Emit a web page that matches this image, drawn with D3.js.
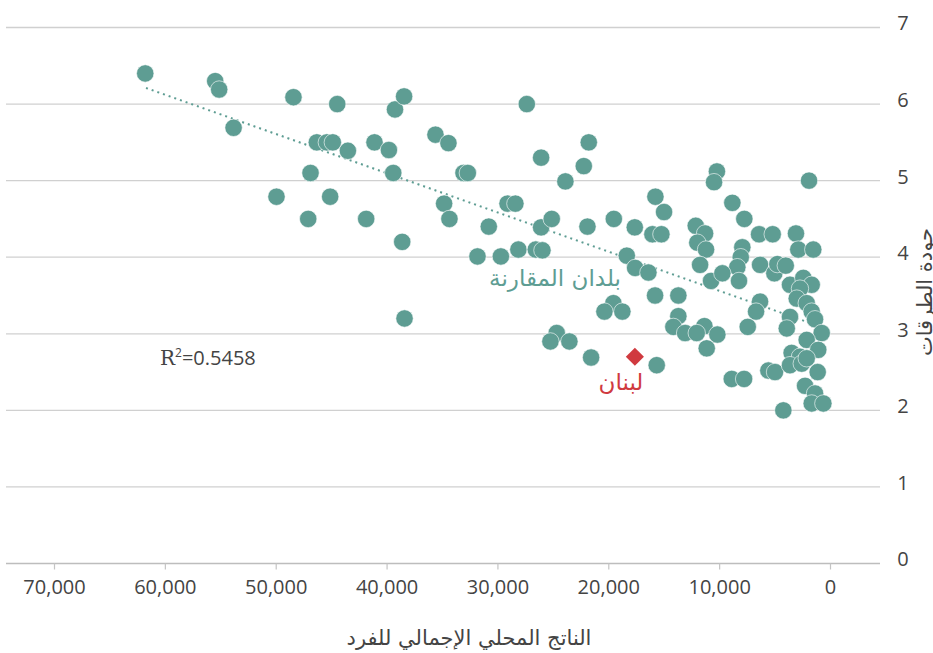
<!DOCTYPE html>
<html lang="ar">
<head>
<meta charset="utf-8">
<script src="https://cdn.jsdelivr.net/npm/d3@7"></script>
<style>
  html, body { margin: 0; padding: 0; background: #fff; }
  svg { display: block; }
  .tick text { font-family: "Open Sans", "Noto Sans", sans-serif; }
</style>
</head>
<body>
<svg id="chart" width="933" height="653"></svg>
<script>
// GDP per capita (US$) of the comparison countries
const gdp = [
  61770, 55460, 55100, 53800, 48400, 44450, 39240, 38420, 27350, 46290,
  45390, 44850, 43490, 41090, 46860, 49930, 45090, 47070, 41840, 39790,
  39400, 35590, 34420, 33060, 32670, 34810, 34330, 38590, 30780, 31800,
  29690, 28110, 26540, 25940, 29090, 28380, 26060, 25100, 26060, 23870,
  22210, 21760, 21880, 19500, 18330, 38380, 19540, 20350, 18730, 24650,
  25220, 23510, 21550, 10200, 10460, 1890, 15750, 14970, 17610, 16020,
  15210, 12110, 11270, 11970, 11180, 11720, 17580, 16380, 8810, 7730,
  6400, 5170, 3070, 2860, 1510, 7910, 8050, 8360, 10730, 9710,
  8210, 6310, 5020, 4750, 3990, 3610, 2410, 1650, 15780, 13680,
  13680, 14130, 13070, 11330, 12020, 10160, 11120, 15630, 6310, 6670,
  7420, 8860, 7750, 5560, 4960, 3610, 3900, 4210, 2710, 3000,
  2100, 1650, 1350, 750, 2100, 1060, 3460, 2710, 3610, 2550,
  2100, 1110, 2250, 1350, 1650, 600
];
// Road quality score of the same countries
const roads = [
  6.40, 6.30, 6.19, 5.69, 6.09, 6.00, 5.93, 6.10, 6.00, 5.50,
  5.50, 5.50, 5.39, 5.50, 5.10, 4.79, 4.79, 4.50, 4.50, 5.40,
  5.10, 5.60, 5.49, 5.10, 5.10, 4.70, 4.50, 4.20, 4.40, 4.01,
  4.01, 4.10, 4.10, 4.09, 4.70, 4.70, 4.39, 4.50, 5.30, 4.99,
  5.19, 5.50, 4.40, 4.50, 4.02, 3.20, 3.40, 3.29, 3.29, 3.01,
  2.90, 2.90, 2.69, 5.12, 4.98, 5.00, 4.79, 4.59, 4.39, 4.30,
  4.30, 4.41, 4.31, 4.19, 4.10, 3.90, 3.86, 3.80, 4.71, 4.50,
  4.30, 4.30, 4.31, 4.10, 4.10, 4.13, 4.00, 3.87, 3.69, 3.79,
  3.69, 3.90, 3.79, 3.91, 3.89, 3.64, 3.73, 3.64, 3.50, 3.50,
  3.23, 3.09, 3.01, 3.10, 3.01, 2.99, 2.81, 2.59, 3.42, 3.29,
  3.09, 2.41, 2.41, 2.52, 2.50, 3.22, 3.07, 2.00, 3.59, 3.46,
  3.40, 3.29, 3.19, 3.01, 2.92, 2.79, 2.75, 2.70, 2.59, 2.61,
  2.68, 2.50, 2.32, 2.22, 2.09, 2.09
];
// Lebanon
const lebanon = { gdp: 17600, road: 2.70 };
// Linear trend line endpoints [gdp, road]
const trendStart = [61700, 6.21];
const trendEnd = [600, 3.08];
const rSquared = "0.5458";

const xTicks = [70000, 60000, 50000, 40000, 30000, 20000, 10000, 0];
const yTicks = [0, 1, 2, 3, 4, 5, 6, 7];

const labels = {
  xTitle: "الناتج المحلي الإجمالي للفرد",
  yTitle: "جودة الطرقات",
  peers: "بلدان المقارنة",
  lebanon: "لبنان"
};

const teal = "#5e9d93";
const red = "#d03a3f";
const grey = "#444";

const svg = d3.select("#chart");
const x = d3.scaleLinear().domain([70000, 0]).range([54, 830]);
const y = d3.scaleLinear().domain([0, 7]).range([563.5, 27.5]);
const gridLeft = 6, gridRight = 880;

// horizontal gridlines
svg.append("g")
  .selectAll("line")
  .data(yTicks)
  .join("line")
  .attr("x1", gridLeft).attr("x2", gridRight)
  .attr("y1", d => y(d)).attr("y2", d => y(d))
  .attr("stroke", d => d === 0 ? "#bdbdbd" : "#d0d0d0")
  .attr("stroke-width", 1.3);

// right-hand value axis labels
const yAxis = svg.append("g")
  .attr("transform", `translate(${gridRight},0)`)
  .call(d3.axisRight(y).tickValues(yTicks).tickSize(0).tickPadding(0).tickFormat(d3.format("d")));
yAxis.select(".domain").remove();
yAxis.selectAll("text")
  .attr("x", 23)
  .attr("dy", "0.12em")
  .attr("text-anchor", "middle")
  .attr("fill", grey)
  .style("font-size", "20px");

// bottom axis
const xAxis = svg.append("g")
  .attr("transform", `translate(0,${y(0)})`)
  .call(d3.axisBottom(x).tickValues(xTicks).tickSize(6).tickPadding(10).tickFormat(d3.format(",")));
xAxis.select(".domain").remove();
xAxis.selectAll(".tick line").attr("stroke", "#c4c4c4").attr("stroke-width", 1.2);
xAxis.selectAll("text")
  .attr("fill", grey)
  .style("font-size", "20px");

// trend line
svg.append("line")
  .attr("x1", x(trendStart[0])).attr("y1", y(trendStart[1]))
  .attr("x2", x(trendEnd[0])).attr("y2", y(trendEnd[1]))
  .attr("stroke", teal)
  .attr("stroke-width", 2)
  .attr("stroke-dasharray", "2,4");

// comparison countries
svg.append("g")
  .selectAll("circle")
  .data(d3.range(gdp.length))
  .join("circle")
  .attr("cx", i => x(gdp[i]))
  .attr("cy", i => y(roads[i]))
  .attr("r", 8.7)
  .attr("fill", teal)
  .attr("stroke", "#fff")
  .attr("stroke-width", 0.6);

// Lebanon marker
svg.append("path")
  .attr("d", d3.symbol().type(d3.symbolDiamond2).size(210)())
  .attr("transform", `translate(${x(lebanon.gdp)},${y(lebanon.road)})`)
  .attr("fill", red);

// annotations
svg.append("text")
  .attr("x", 555).attr("y", 286)
  .attr("text-anchor", "middle")
  .attr("fill", teal)
  .style("font-family", "'DejaVu Sans', sans-serif")
  .style("font-size", "23px")
  .text(labels.peers);

svg.append("text")
  .attr("x", 621).attr("y", 390)
  .attr("text-anchor", "middle")
  .attr("fill", red)
  .style("font-family", "'DejaVu Sans', sans-serif")
  .style("font-size", "23px")
  .text(labels.lebanon);

const r2 = svg.append("text")
  .attr("x", 160).attr("y", 365)
  .attr("fill", grey)
  .style("font-family", "'Open Sans', sans-serif")
  .style("font-size", "20px");
r2.append("tspan").style("font-family", "'DejaVu Serif', serif").text("R");
r2.append("tspan").attr("dy", -8).style("font-size", "12px").text("2");
r2.append("tspan").attr("dy", 8).text("=" + rSquared);

// axis titles
svg.append("text")
  .attr("x", 469).attr("y", 645)
  .attr("text-anchor", "middle")
  .attr("fill", grey)
  .style("font-family", "'DejaVu Sans', sans-serif")
  .style("font-size", "21px")
  .text(labels.xTitle);

svg.append("text")
  .attr("transform", "translate(932,292) rotate(-90)")
  .attr("text-anchor", "middle")
  .attr("fill", grey)
  .style("font-family", "'DejaVu Sans', sans-serif")
  .style("font-size", "21px")
  .text(labels.yTitle);
</script>
</body>
</html>
